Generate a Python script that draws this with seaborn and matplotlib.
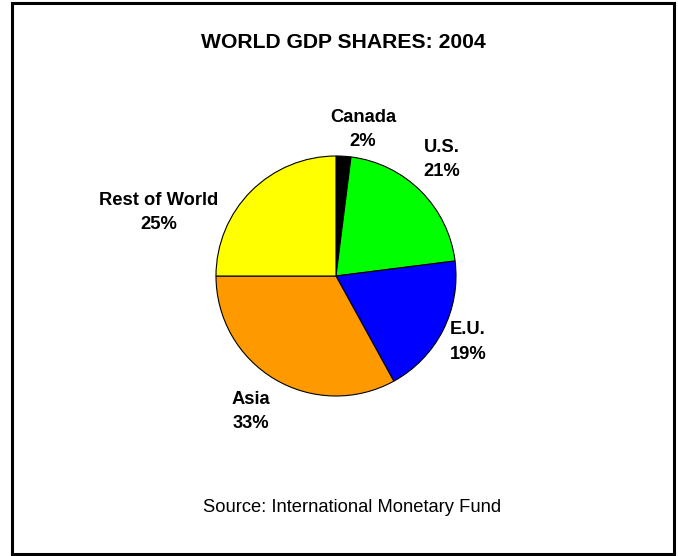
import matplotlib
matplotlib.use("Agg")
import matplotlib.pyplot as plt
from matplotlib.patches import Rectangle
import seaborn as sns

# World GDP shares, 2004 (percent), clockwise from 12 o'clock
regions = ["Canada", "U.S.", "E.U.", "Asia", "Rest of World"]
shares = [2, 21, 19, 33, 25]
colors = ["#000000", "#00FF00", "#0000FF", "#FF9900", "#FFFF00"]
label_xy = [(0.225, 1.22), (0.88, 0.97), (1.10, -0.55), (-0.71, -1.13), (-1.48, 0.53)]

sns.set_theme(style="white")
plt.rcParams["font.family"] = ["Liberation Sans", "DejaVu Sans"]
plt.rcParams["text.color"] = "black"

W, H = 678, 556
fig = plt.figure(figsize=(W / 100, H / 100), dpi=100)
fig.patch.set_facecolor("white")

# pie axes: centre (336, 276) px, radius 120 px
cx, cy, r = 336, 276, 120
ax = fig.add_axes([(cx - r) / W, (H - cy - r) / H, 2 * r / W, 2 * r / H])
ax.pie(shares, colors=colors, startangle=90, counterclock=False, radius=1.0,
       wedgeprops=dict(edgecolor="black", linewidth=0.8))
ax.set_xlim(-1, 1)
ax.set_ylim(-1, 1)
ax.set_aspect("equal")
ax.axis("off")

for name, val, (x, y) in zip(regions, shares, label_xy):
    ax.text(x, y, f"{name}\n{val}%", ha="center", va="center", fontsize=13.2,
            fontweight="bold", linespacing=1.55, color="black", clip_on=False)

fig.text(343 / W, 1 - 42 / H, "WORLD GDP SHARES: 2004", ha="center", va="center",
         fontsize=15.2, fontweight="bold", color="black")
fig.text(352 / W, 1 - 507 / H, "Source: International Monetary Fund", ha="center",
         va="center", fontsize=13.2, color="black")

# frame around the whole chart
fig.patches.append(Rectangle((11.5 / W, 1 - 553.5 / H), 662 / W, 550.5 / H,
                             transform=fig.transFigure, fill=False,
                             edgecolor="black", linewidth=2.2))

fig.savefig("out.png", dpi=100)
